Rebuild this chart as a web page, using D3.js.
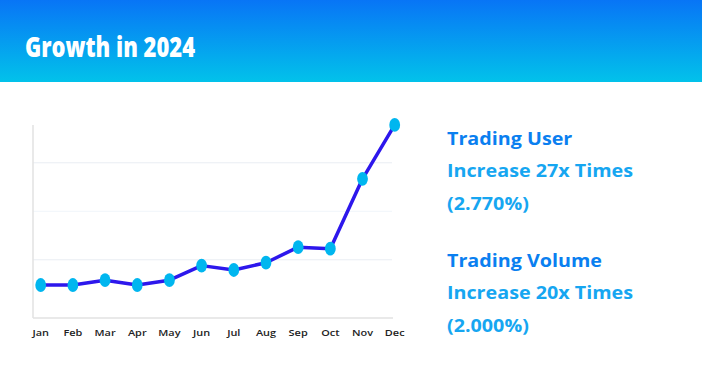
<!DOCTYPE html>
<html>
<head>
<meta charset="utf-8">
<script src="https://cdn.jsdelivr.net/npm/d3@7"></script>
<style>
  body { margin: 0; background: #fff; }
  svg { display: block; }
</style>
</head>
<body>
<div id="chart"></div>
<script>
var months = ["Jan","Feb","Mar","Apr","May","Jun","Jul","Aug","Sep","Oct","Nov","Dec"];
var growth = [68, 68, 78, 68, 78, 108, 99, 114, 146, 143, 287, 398];
var gridTicks = [120, 220, 320];
var titleText = "Growth in 2024";
var statLines = [
  {text: "Trading User", kind: "head"},
  {text: "Increase 27x Times", kind: "sub"},
  {text: "(2.770%)", kind: "sub"},
  {text: "Trading Volume", kind: "head"},
  {text: "Increase 20x Times", kind: "sub"},
  {text: "(2.000%)", kind: "sub"}
];

var width = 702, height = 367;
var svg = d3.select("#chart").append("svg")
  .attr("width", width)
  .attr("height", height);

// header band
var defs = svg.append("defs");
var grad = defs.append("linearGradient")
  .attr("id", "hdr")
  .attr("x1", 0).attr("y1", 0).attr("x2", 0).attr("y2", 1);
grad.append("stop").attr("offset", "0%").attr("stop-color", "#0875f6");
grad.append("stop").attr("offset", "100%").attr("stop-color", "#02c2ea");

svg.append("rect")
  .attr("x", 0).attr("y", 0)
  .attr("width", width).attr("height", 82)
  .attr("fill", "url(#hdr)");

svg.append("text")
  .attr("x", 25).attr("y", 57)
  .attr("fill", "#fff")
  .attr("font-family", "'Open Sans', sans-serif")
  .attr("font-weight", 800)
  .attr("font-size", 29)
  .attr("textLength", 170)
  .attr("lengthAdjust", "spacingAndGlyphs")
  .text(titleText);

// chart
var x = d3.scalePoint()
  .domain(months)
  .range([40.7, 394.7]);

var y = d3.scaleLinear()
  .domain([0, 400])
  .range([318, 124]);

var g = svg.append("g");

g.selectAll(".grid")
  .data(gridTicks)
  .enter()
  .append("line")
  .attr("class", "grid")
  .attr("x1", 33).attr("x2", 392)
  .attr("y1", d => y(d)).attr("y2", d => y(d))
  .attr("stroke", (d, i) => i == 1 ? "#f1f5fb" : "#e9edf3")
  .attr("stroke-width", 1);

g.append("line")
  .attr("x1", 33).attr("x2", 33)
  .attr("y1", y(400) + 1).attr("y2", y(0))
  .attr("stroke", "#e2e2e2")
  .attr("stroke-width", 1.5);

g.append("line")
  .attr("x1", 33).attr("x2", 393)
  .attr("y1", y(0)).attr("y2", y(0))
  .attr("stroke", "#e2e2e2")
  .attr("stroke-width", 1.5);

var line = d3.line()
  .x((d, i) => x(months[i]))
  .y(d => y(d));

g.append("path")
  .datum(growth)
  .attr("d", line)
  .attr("fill", "none")
  .attr("stroke", "#2d17ec")
  .attr("stroke-width", 3.5)
  .attr("stroke-linejoin", "round");

g.selectAll(".dot")
  .data(growth)
  .enter()
  .append("ellipse")
  .attr("class", "dot")
  .attr("cx", (d, i) => x(months[i]))
  .attr("cy", d => y(d))
  .attr("rx", 5.4)
  .attr("ry", 6.9)
  .attr("fill", "#00b6ef");

g.selectAll(".mlabel")
  .data(months)
  .enter()
  .append("g")
  .attr("transform", d => "translate(" + x(d) + ",335.5) scale(1.15,1)")
  .append("text")
  .attr("class", "mlabel")
  .attr("text-anchor", "middle")
  .attr("font-family", "'Open Sans', sans-serif")
  .attr("font-size", 9.5)
  .attr("font-weight", 600)
  .attr("fill", "#222")
  .text(d => d);

// stats text
var stats = svg.append("g")
  .attr("transform", "translate(447,0) scale(1.16,1)");
stats.selectAll("text")
  .data(statLines)
  .enter()
  .append("text")
  .attr("x", 0)
  .attr("y", (d, i) => 145 + (i % 3) * 32.5 + (i >= 3 ? 122 : 0))
  .attr("font-family", "'Open Sans', sans-serif")
  .attr("font-weight", 700)
  .attr("font-size", 17)
  .attr("fill", d => d.kind == "head" ? "#0a7ff0" : "#16a6f1")
  .text(d => d.text);
</script>
</body>
</html>
